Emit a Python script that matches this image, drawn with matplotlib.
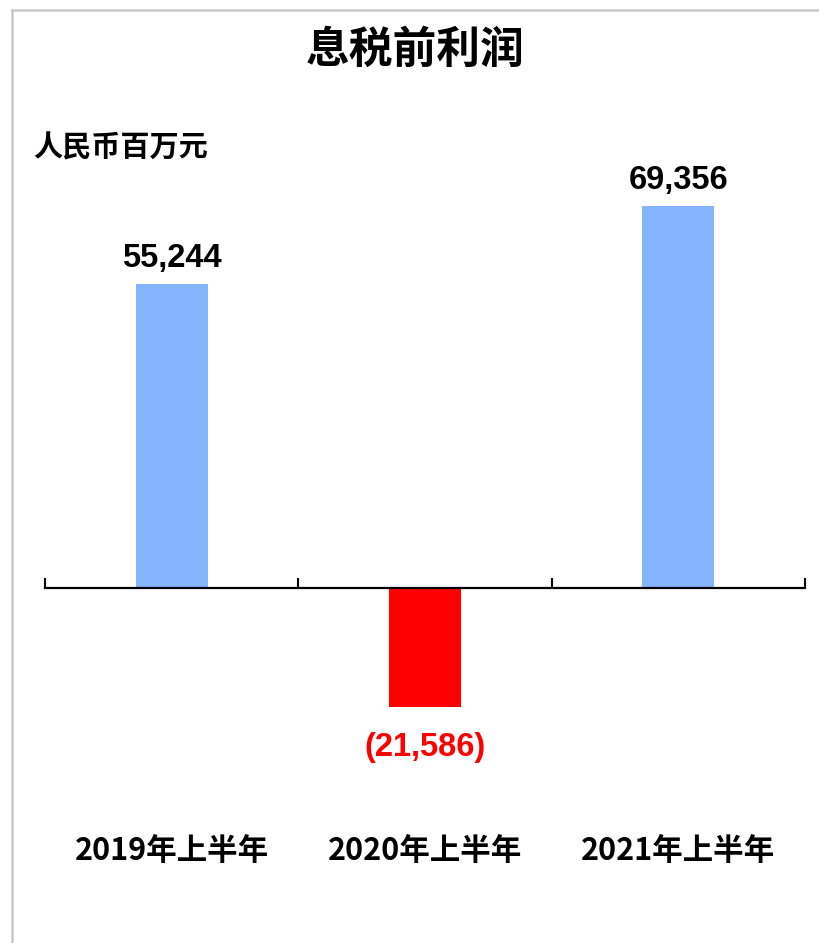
import matplotlib
matplotlib.use("Agg")
import matplotlib.pyplot as plt
from matplotlib.lines import Line2D
import matplotlib.transforms as mtransforms

categories = ["2019年上半年", "2020年上半年", "2021年上半年"]
values = [55244, -21586, 69356]
value_labels = ["55,244", "(21,586)", "69,356"]
bar_colors = ["#86B4FF", "#FF0000", "#86B4FF"]
label_colors = ["#000000", "#FF0000", "#000000"]
title = "息税前利润"
unit = "人民币百万元"

W, H, DPI = 819, 943, 100
fig = plt.figure(figsize=(W / DPI, H / DPI), dpi=DPI)
fig.patch.set_facecolor("white")

def fx(px):
    return px / W

def fy(py):
    return 1 - py / H

# frame lines (left and top)
fig.add_artist(Line2D([fx(12), fx(12)], [fy(10), 0], color="#C8C8C8", lw=1.8, transform=fig.transFigure))
fig.add_artist(Line2D([fx(12), 1], [fy(10), fy(10)], color="#C8C8C8", lw=1.8, transform=fig.transFigure))

ymin, ymax = -30000, 75000
ppu = 0.005505  # pixels per unit
zero_px = 588
top_px = zero_px - ymax * ppu
bot_px = zero_px - ymin * ppu
ax = fig.add_axes([fx(45), fy(bot_px), fx(805) - fx(45), (bot_px - top_px) / H])
ax.set_xlim(-0.5, len(categories) - 0.5)
ax.set_ylim(ymin, ymax)
ax.set_facecolor("none")

x = list(range(len(categories)))
ax.bar(x, values, width=0.284, color=bar_colors, zorder=2)

for s in ["top", "right", "left"]:
    ax.spines[s].set_visible(False)
ax.spines["bottom"].set_position(("data", 0))
ax.spines["bottom"].set_linewidth(1.6)
ax.spines["bottom"].set_zorder(3)
ax.set_yticks([])
ax.set_xticks([])
ax.set_xticks([i - 0.5 for i in range(len(categories) + 1)], minor=True)
ax.tick_params(axis="x", which="minor", direction="in", length=7, width=1.5, color="black", labelbottom=False)

cjk = ["Noto Sans CJK SC", "DejaVu Sans"]
num_font = ["Liberation Sans", "DejaVu Sans"]

for xi, v, lab, c in zip(x, values, value_labels, label_colors):
    if v >= 0:
        ax.annotate(lab, (xi, v), xytext=(0, 10), textcoords="offset pixels",
                    ha="center", va="bottom", fontsize=23.5, fontweight="bold",
                    family=num_font, color=c)
    else:
        ax.annotate(lab, (xi, v), xytext=(0, -25), textcoords="offset pixels",
                    ha="center", va="top", fontsize=23.5, fontweight="bold",
                    family=num_font, color=c)

trans = mtransforms.blended_transform_factory(ax.transData, fig.transFigure)
for xi, cat in zip(x, categories):
    ax.text(xi, fy(851), cat, transform=trans, ha="center", va="center",
            fontsize=22, fontweight="bold",
            family=["Liberation Sans Narrow", "Noto Sans CJK SC", "DejaVu Sans"])

fig.text(fx(415), fy(50), title, ha="center", va="center", fontsize=31.5,
         fontweight="bold", family=cjk)
fig.text(fx(33), fy(148), unit, ha="left", va="center", fontsize=21,
         fontweight="bold", family=cjk)

fig.savefig("out.png", dpi=DPI, facecolor="white")
